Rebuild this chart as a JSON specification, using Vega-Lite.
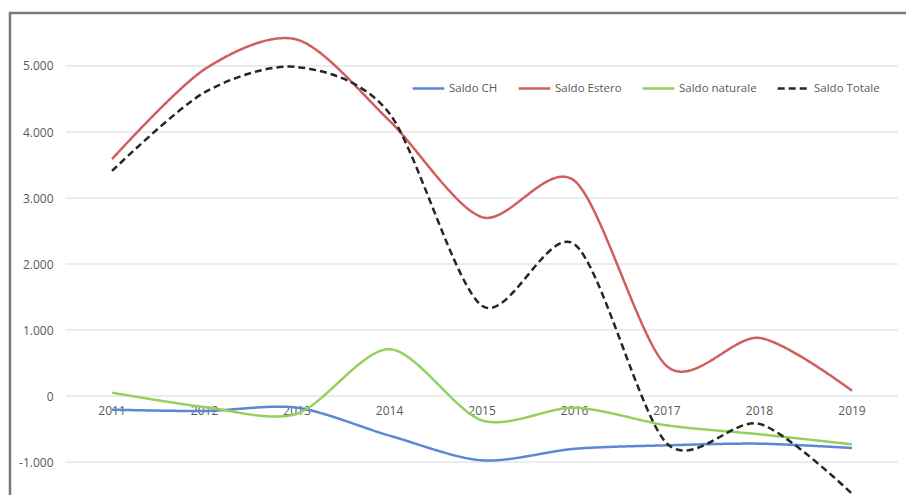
{
  "$schema": "https://vega.github.io/schema/vega-lite/v6.json",
  "width": 900,
  "height": 490,
  "autosize": {"type": "none"},
  "padding": {"left": 10, "top": 13, "right": 0, "bottom": 0},
  "background": "white",
  "config": {
    "view": {"stroke": "#7a7a7a", "strokeWidth": 2.5},
    "locale": {"number": {"decimal": ",", "thousands": ".", "grouping": [3], "currency": ["€", ""], "minus": "-"}},
    "font": "Open Sans"
  },
  "datasets": {
    "series": [
      {"year": 2011, "serie": "Saldo CH", "value": -207},
      {"year": 2012, "serie": "Saldo CH", "value": -227},
      {"year": 2013, "serie": "Saldo CH", "value": -177},
      {"year": 2014, "serie": "Saldo CH", "value": -600},
      {"year": 2015, "serie": "Saldo CH", "value": -975},
      {"year": 2016, "serie": "Saldo CH", "value": -800},
      {"year": 2017, "serie": "Saldo CH", "value": -747},
      {"year": 2018, "serie": "Saldo CH", "value": -722},
      {"year": 2019, "serie": "Saldo CH", "value": -788},
      {"year": 2011, "serie": "Saldo Estero", "value": 3590},
      {"year": 2012, "serie": "Saldo Estero", "value": 4950},
      {"year": 2013, "serie": "Saldo Estero", "value": 5400},
      {"year": 2014, "serie": "Saldo Estero", "value": 4170},
      {"year": 2015, "serie": "Saldo Estero", "value": 2710},
      {"year": 2016, "serie": "Saldo Estero", "value": 3260},
      {"year": 2017, "serie": "Saldo Estero", "value": 450},
      {"year": 2018, "serie": "Saldo Estero", "value": 880},
      {"year": 2019, "serie": "Saldo Estero", "value": 80},
      {"year": 2011, "serie": "Saldo naturale", "value": 50},
      {"year": 2012, "serie": "Saldo naturale", "value": -167},
      {"year": 2013, "serie": "Saldo naturale", "value": -268},
      {"year": 2014, "serie": "Saldo naturale", "value": 710},
      {"year": 2015, "serie": "Saldo naturale", "value": -369},
      {"year": 2016, "serie": "Saldo naturale", "value": -177},
      {"year": 2017, "serie": "Saldo naturale", "value": -444},
      {"year": 2018, "serie": "Saldo naturale", "value": -580},
      {"year": 2019, "serie": "Saldo naturale", "value": -732},
      {"year": 2011, "serie": "Saldo Totale", "value": 3410},
      {"year": 2012, "serie": "Saldo Totale", "value": 4600},
      {"year": 2013, "serie": "Saldo Totale", "value": 4985},
      {"year": 2014, "serie": "Saldo Totale", "value": 4280},
      {"year": 2015, "serie": "Saldo Totale", "value": 1366},
      {"year": 2016, "serie": "Saldo Totale", "value": 2300},
      {"year": 2017, "serie": "Saldo Totale", "value": -720},
      {"year": 2018, "serie": "Saldo Totale", "value": -422},
      {"year": 2019, "serie": "Saldo Totale", "value": -1480}
    ],
    "grid": [
      {"v": -1000}, {"v": 0}, {"v": 1000}, {"v": 2000}, {"v": 3000}, {"v": 4000}, {"v": 5000}
    ],
    "years": [
      {"year": 2011}, {"year": 2012}, {"year": 2013}, {"year": 2014}, {"year": 2015},
      {"year": 2016}, {"year": 2017}, {"year": 2018}, {"year": 2019}
    ]
  },
  "layer": [
    {
      "data": {"name": "grid"},
      "mark": {"type": "rule", "color": "#d9d9d9", "strokeWidth": 1},
      "encoding": {
        "y": {
          "field": "v",
          "type": "quantitative",
          "scale": {"domain": [-1621, 5803], "nice": false, "zero": false},
          "axis": {
            "values": [-1000, 0, 1000, 2000, 3000, 4000, 5000],
            "format": ",.0f",
            "title": null,
            "grid": false,
            "domain": false,
            "ticks": false,
            "offset": -56,
            "labelPadding": 13,
            "labelFontSize": 12,
            "labelColor": "#595959",
            "labelFont": "Open Sans"
          }
        },
        "x": {
          "datum": 2010.5,
          "type": "quantitative",
          "scale": {"domain": [2009.897, 2019.627], "nice": false, "zero": false},
          "axis": null
        },
        "x2": {"datum": 2019.5}
      }
    },
    {
      "data": {"name": "years"},
      "mark": {"type": "text", "dy": 15, "fontSize": 12, "color": "#595959", "baseline": "middle", "align": "center"},
      "encoding": {
        "x": {"field": "year", "type": "quantitative"},
        "y": {"datum": 0, "type": "quantitative"},
        "text": {"field": "year", "type": "ordinal"}
      }
    },
    {
      "data": {"name": "series"},
      "mark": {"type": "line", "interpolate": "cardinal", "tension": 0.15, "strokeWidth": 2.5},
      "encoding": {
        "x": {"field": "year", "type": "quantitative"},
        "y": {"field": "value", "type": "quantitative"},
        "color": {
          "field": "serie",
          "type": "nominal",
          "scale": {
            "domain": ["Saldo CH", "Saldo Estero", "Saldo naturale", "Saldo Totale"],
            "range": ["#5b87d3", "#cf5f5c", "#96d05c", "#262626"]
          },
          "legend": {
            "title": null,
            "orient": "none",
            "legendX": 401,
            "legendY": 58,
            "direction": "horizontal",
            "symbolType": "stroke",
            "symbolSize": 1000,
            "symbolStrokeWidth": 2.5,
            "labelFontSize": 11.5,
            "labelColor": "#595959",
            "labelOffset": 3,
            "columnPadding": 15
          }
        },
        "strokeDash": {
          "field": "serie",
          "type": "nominal",
          "scale": {
            "domain": ["Saldo CH", "Saldo Estero", "Saldo naturale", "Saldo Totale"],
            "range": [[1, 0], [1, 0], [1, 0], [7, 4]]
          },
          "legend": {
            "title": null,
            "orient": "none",
            "legendX": 401,
            "legendY": 58,
            "direction": "horizontal",
            "symbolType": "stroke",
            "symbolSize": 1000,
            "symbolStrokeWidth": 2.5,
            "labelFontSize": 11.5,
            "labelColor": "#595959",
            "labelOffset": 3,
            "columnPadding": 15
          }
        }
      }
    }
  ]
}
